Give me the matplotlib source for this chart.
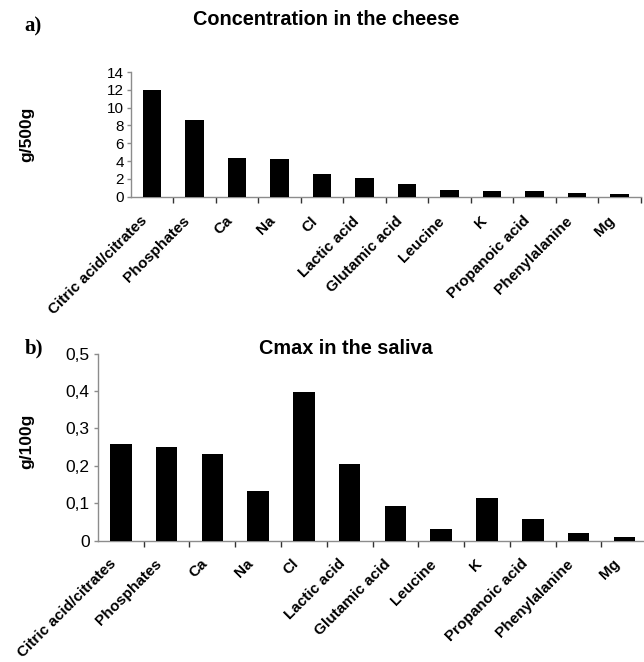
import matplotlib
matplotlib.use("Agg")
import matplotlib.pyplot as plt
import matplotlib.transforms as mtransforms
from matplotlib.ticker import FuncFormatter, FixedLocator

plt.rcParams['font.family'] = ['Liberation Sans', 'DejaVu Sans']

# categories shared by both panels
compounds = ["Citric acid/citrates", "Phosphates", "Ca", "Na", "Cl",
             "Lactic acid", "Glutamic acid", "Leucine", "K",
             "Propanoic acid", "Phenylalanine", "Mg"]

# a) concentration in the cheese (g/500g)
cheese = [12.0, 8.6, 4.3, 4.2, 2.6, 2.1, 1.4, 0.8, 0.6, 0.6, 0.45, 0.3]
cheese_ticks = [0, 2, 4, 6, 8, 10, 12, 14]

# b) Cmax in the saliva (g/100g)
saliva = [0.258, 0.25, 0.231, 0.133, 0.397, 0.205, 0.092, 0.031,
          0.115, 0.058, 0.021, 0.01]
saliva_ticks = [0, 0.1, 0.2, 0.3, 0.4, 0.5]

fig = plt.figure(figsize=(6.44, 6.62), dpi=100)

grey = '#8c8c8c'


def style_axis(ax, n, label_size, pad, shift):
    ax.set_xlim(-0.5, n - 0.5)
    for s in ['top', 'right']:
        ax.spines[s].set_visible(False)
    for s in ['left', 'bottom']:
        ax.spines[s].set_color(grey)
        ax.spines[s].set_linewidth(1.0)
    ax.set_xticks(range(n))
    ax.set_xticklabels(compounds, rotation=45, ha='right', va='center',
                       rotation_mode='anchor', fontsize=label_size,
                       fontweight='bold')
    ax.tick_params(axis='x', which='major', length=0, pad=pad)
    # nudge the slanted labels a little to the left, like the original
    offset = mtransforms.ScaledTranslation(-shift / 100, 0, fig.dpi_scale_trans)
    for lab in ax.get_xticklabels():
        lab.set_transform(lab.get_transform() + offset)
    ax.xaxis.set_minor_locator(FixedLocator([i + 0.5 for i in range(n)]))
    ax.tick_params(axis='x', which='minor', length=4, width=1, color='#333333',
                   direction='out')
    ax.tick_params(axis='y', length=3, width=1, color=grey, direction='out')


# top panel
ax1 = fig.add_axes([0.203, 0.703, 0.792, 0.188])
ax1.bar(range(len(compounds)), cheese, width=0.43, color='black', zorder=3)
ax1.set_ylim(0, 14)
ax1.set_yticks(cheese_ticks)
ax1.tick_params(axis='y', labelsize=11, pad=2)
style_axis(ax1, len(compounds), 11, 16, 7)
ax1.set_ylabel("g/500g", fontsize=12.5, fontweight='bold')
ax1.yaxis.set_label_coords(-0.19, 0.5)

# bottom panel
ax2 = fig.add_axes([0.152, 0.183, 0.853, 0.283])
ax2.bar(range(len(compounds)), saliva, width=0.47, color='black', zorder=3)
ax2.set_ylim(0, 0.5)
ax2.set_yticks(saliva_ticks)
ax2.yaxis.set_major_formatter(FuncFormatter(
    lambda v, p: '0' if v == 0 else ('%.1f' % v).replace('.', ',')))
ax2.tick_params(axis='y', labelsize=12.5, pad=3)
style_axis(ax2, len(compounds), 11, 15, 7)
ax2.set_ylabel("g/100g", fontsize=12.5, fontweight='bold')
ax2.yaxis.set_label_coords(-0.115, 0.53)

# titles and panel letters
fig.text(0.506, 0.97, "Concentration in the cheese", ha='center', va='center',
         fontsize=14.3, fontweight='bold')
fig.text(0.537, 0.473, "Cmax in the saliva", ha='center', va='center',
         fontsize=14.3, fontweight='bold')
fig.text(0.052, 0.96, "a)", ha='center', va='center', fontsize=15,
         fontweight='bold', family='Liberation Serif')
fig.text(0.052, 0.474, "b)", ha='center', va='center', fontsize=15,
         fontweight='bold', family='Liberation Serif')

fig.savefig("out.png", dpi=100)
